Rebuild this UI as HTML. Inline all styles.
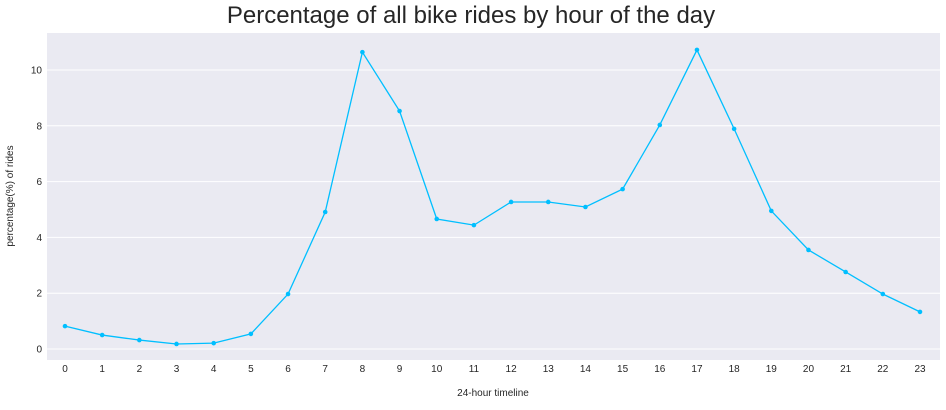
<!DOCTYPE html>
<html><head><meta charset="utf-8"><style>
body{margin:0;background:#fff;font-family:"Liberation Sans",Arial,sans-serif}
svg text{font-family:"Liberation Sans",Arial,sans-serif}
</style></head><body>
<svg id="chart" width="946" height="405" viewBox="0 0 946 405" xmlns="http://www.w3.org/2000/svg">
<text x="471" y="23" text-anchor="middle" font-size="24" fill="#262626">Percentage of all bike rides by hour of the day</text>
<rect x="47" y="33" width="893" height="327" fill="#eaeaf2"/>
<g id="grid"></g><g id="xt"></g><g id="yt"></g><g id="series"></g>
<text x="493" y="396" text-anchor="middle" font-size="10" fill="#262626">24-hour timeline</text>
<text transform="translate(13,196) rotate(-90)" text-anchor="middle" font-size="10" fill="#262626">percentage(%) of rides</text>
</svg>
<script>
const hours=[0,1,2,3,4,5,6,7,8,9,10,11,12,13,14,15,16,17,18,19,20,21,22,23];
const pct=[0.82,0.50,0.32,0.18,0.21,0.54,1.97,4.91,10.64,8.53,4.66,4.44,5.27,5.27,5.09,5.73,8.03,10.72,7.89,4.95,3.55,2.76,1.97,1.33];
const yTicks=[0,2,4,6,8,10];
const NS="http://www.w3.org/2000/svg";
const x=h=>65+h*(920-65)/23;
const y=v=>349-v*27.9;
function mk(t,a,p){const e=document.createElementNS(NS,t);for(const k in a)e.setAttribute(k,a[k]);p.appendChild(e);return e;}
const grid=document.getElementById('grid'),xt=document.getElementById('xt'),yt=document.getElementById('yt'),ser=document.getElementById('series');
yTicks.forEach(v=>{
 const l=mk('line',{x1:47,x2:940,y1:y(v),y2:y(v),stroke:'#fff','stroke-width':1},grid);
 
 
 const t=mk('text',{x:42,y:y(v)+3.5,'text-anchor':'end','font-size':10,fill:'#262626'},yt);
 t.textContent=v;
 
 
});
hours.forEach(h=>{
 const t=mk('text',{x:x(h),y:372,'text-anchor':'middle','font-size':10,fill:'#262626'},xt);
 t.textContent=h;
 
 
});
const pl=mk('polyline',{points:hours.map((h,i)=>x(h)+','+y(pct[i])).join(' '),fill:'none',stroke:'#00bfff','stroke-width':1.3},ser);


hours.forEach((h,i)=>{
 const c=mk('circle',{cx:x(h),cy:y(pct[i]),r:2.3,fill:'#00bfff'},ser);
 
 
});
</script>
</body></html>
